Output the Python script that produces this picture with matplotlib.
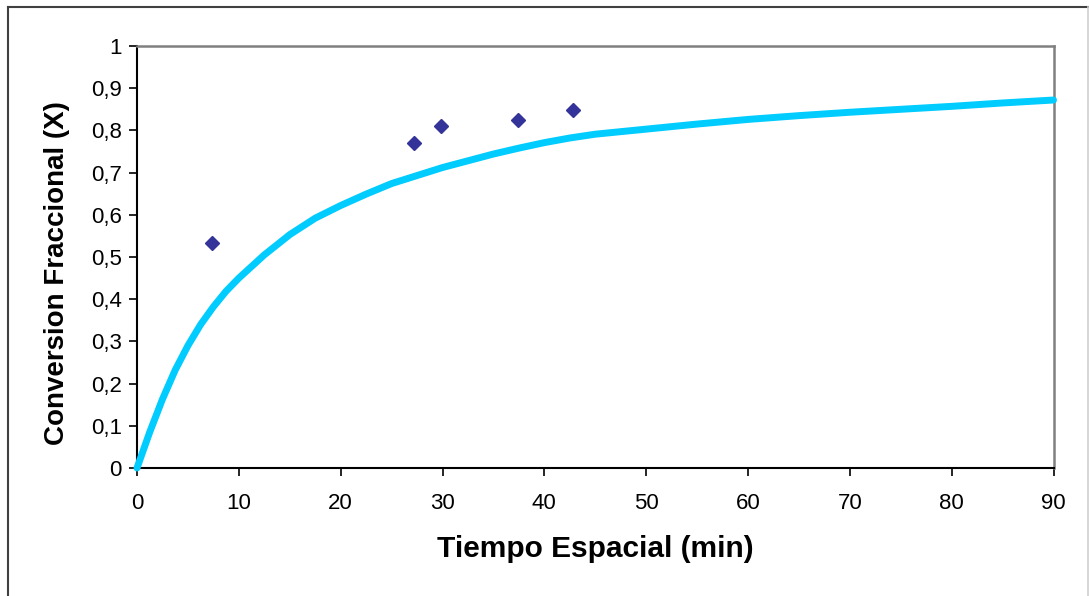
import matplotlib
matplotlib.use("Agg")
import matplotlib.pyplot as plt
from matplotlib.lines import Line2D

plt.rcParams['font.family'] = ['Liberation Sans', 'DejaVu Sans']

# Model curve
tau_model = [0, 1.25, 2.5, 3.75, 5, 6.25, 7.5, 8.75, 10, 12.5, 15, 17.5, 20,
             22.5, 25, 27.5, 30, 32.5, 35, 37.5, 40, 42.5, 45, 50, 55, 60, 65,
             70, 75, 80, 85, 90]
x_model = [0, 0.085, 0.163, 0.232, 0.290, 0.340, 0.382, 0.419, 0.450, 0.505,
           0.553, 0.592, 0.622, 0.649, 0.674, 0.693, 0.712, 0.728, 0.744,
           0.758, 0.771, 0.782, 0.791, 0.803, 0.815, 0.826, 0.835, 0.843,
           0.850, 0.857, 0.865, 0.872]

# Experimental points
tau_exp = [7.4, 27.2, 29.9, 37.4, 42.8]
x_exp = [0.533, 0.770, 0.810, 0.825, 0.849]

x_ticks = [0, 10, 20, 30, 40, 50, 60, 70, 80, 90]
y_ticks = [0, 0.1, 0.2, 0.3, 0.4, 0.5, 0.6, 0.7, 0.8, 0.9, 1.0]
y_tick_labels = ["0", "0,1", "0,2", "0,3", "0,4", "0,5", "0,6", "0,7", "0,8", "0,9", "1"]

W, H = 1089, 596
fig = plt.figure(figsize=(W / 100, H / 100), dpi=100)
fig.patch.set_facecolor("white")

# outer chart border
tf = fig.transFigure
fig.lines.append(Line2D([7.5 / W, 7.5 / W], [0, 1 - 6.5 / H], transform=tf,
                        color="#404040", linewidth=1.5))
fig.lines.append(Line2D([7.5 / W, 1088 / W], [1 - 6.5 / H, 1 - 6.5 / H], transform=tf,
                        color="#404040", linewidth=1.5))
fig.lines.append(Line2D([1088 / W, 1088 / W], [0, 1 - 6.5 / H], transform=tf,
                        color="#d0d0d0", linewidth=1.2))

ax = fig.add_axes([137 / W, 1 - 468 / H, (1053.5 - 137) / W, (468 - 46) / H])

ax.plot(tau_model, x_model, color="#00CCFF", linewidth=5.0, clip_on=False,
        solid_capstyle="round", solid_joinstyle="round", zorder=3)
ax.plot(tau_exp, x_exp, linestyle="none", marker="D", markersize=7.2,
        color="#333399", zorder=4)

ax.set_xlim(0, 90)
ax.set_ylim(0, 1)
ax.set_xticks(x_ticks)
ax.set_xticklabels([str(t) for t in x_ticks])
ax.set_yticks(y_ticks)
ax.set_yticklabels(y_tick_labels)

for s in ["left", "bottom"]:
    ax.spines[s].set_color("black")
    ax.spines[s].set_linewidth(1.5)
for s in ["top", "right"]:
    ax.spines[s].set_color("#808080")
    ax.spines[s].set_linewidth(1.8)

ax.tick_params(axis="both", direction="out", length=6, width=1.2,
               labelsize=16, color="black")
ax.tick_params(axis="x", pad=12)
ax.tick_params(axis="y", pad=5)

ax.set_xlabel("Tiempo Espacial (min)", fontsize=21.5, fontweight="bold", labelpad=15)
ax.set_ylabel("Conversion Fraccional (X)", fontsize=20, fontweight="bold")
ax.yaxis.set_label_coords(-0.0735, 0.462)

fig.savefig("out.png", dpi=100, facecolor="white")
